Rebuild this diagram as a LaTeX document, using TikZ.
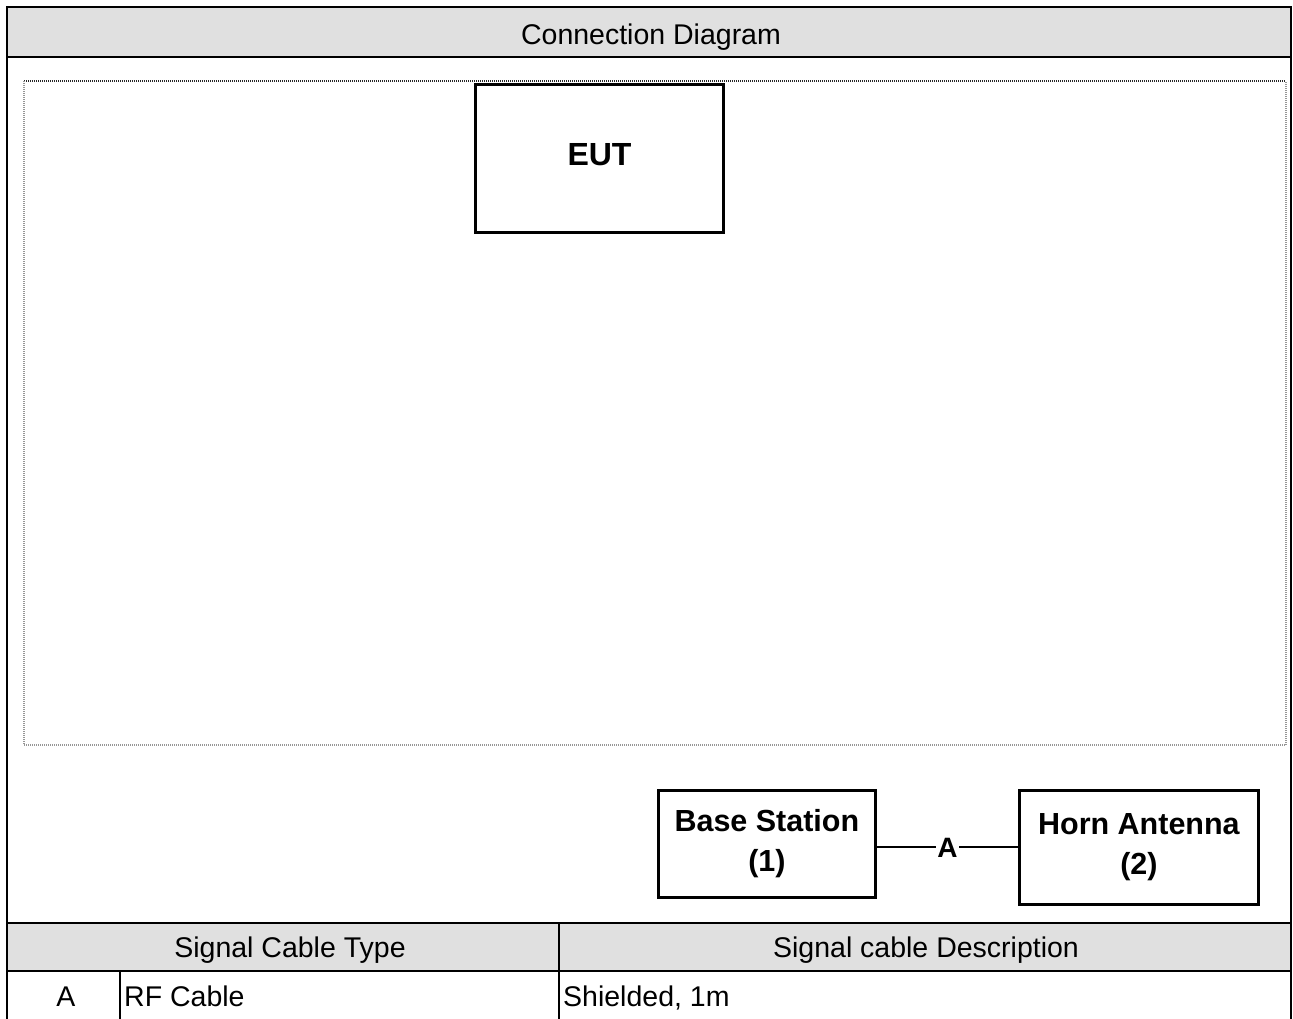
\documentclass[tikz,border=0pt]{standalone}
\usepackage{fontspec}
\setmainfont{Liberation Sans}
\definecolor{hdrgray}{RGB}{224,224,224}
\definecolor{dotgray}{RGB}{150,150,150}
\begin{document}
\begin{tikzpicture}[x=1pt,y=-1pt,
  rule/.style={line width=2.2pt, line cap=rect},
  celltext/.style={font=\fontsize{28.5}{32}\selectfont, inner sep=0pt},
  unitbox/.style={draw, line width=2.8pt, anchor=north west, inner sep=0pt,
    align=center, font=\bfseries\fontsize{30.5}{40}\selectfont},
  conn/.style={line width=2pt},
  frame/.style={line width=1.2pt, dash pattern=on 1pt off 1pt}]
\useasboundingbox (0,0) rectangle (1293,1018);
% header and table fills
\fill[hdrgray] (7,7) rectangle (1291,57);
\fill[hdrgray] (7,923) rectangle (1291,971);
% table rules
\draw[rule] (7,7) -- (1291,7);
\draw[rule] (7,57) -- (1291,57);
\draw[rule] (7,923) -- (1291,923);
\draw[rule] (7,971) -- (1291,971);
\draw[rule] (7,7) -- (7,1020);
\draw[rule] (1291,7) -- (1291,1020);
\draw[rule] (559,923) -- (559,1020);
\draw[rule] (120,971) -- (120,1020);
% dotted frame of the test area
\draw[frame, black!85] (24,81) -- (1286,81);
\draw[frame, dotgray] (24,81) -- (24,745) -- (1286,745) -- (1286,81);
% texts of the table
\node[celltext, anchor=base] (title) at (651,44) {Connection Diagram};
\node[celltext, anchor=base] (colA) at (290,957) {Signal Cable Type};
\node[celltext, anchor=base] (colB) at (926,957) {Signal cable Description};
\node[celltext, anchor=base] (rowid) at (66,1006) {A};
\node[celltext, anchor=base west] (rowtype) at (124,1006) {RF Cable};
\node[celltext, anchor=base west] (rowdesc) at (563,1006) {Shielded, 1m};
% units
\node[unitbox, line width=3pt, minimum width=248pt, minimum height=148pt,
  text depth=8pt, font=\bfseries\fontsize{32}{38}\selectfont] (eut) at (474,83) {EUT};
\node[unitbox, minimum width=217pt, minimum height=107pt] (base) at (657,789) {Base Station\\(1)};
\node[unitbox, minimum width=239pt, minimum height=114pt] (horn) at (1018,789) {Horn Antenna\\(2)};
% cable
\draw[conn] (horn.west -| base.east) -- node[fill=white, inner sep=1.5pt,
  font=\bfseries\fontsize{28}{30}\selectfont] (cableA) {A} (horn.west);
\end{tikzpicture}
\end{document}
